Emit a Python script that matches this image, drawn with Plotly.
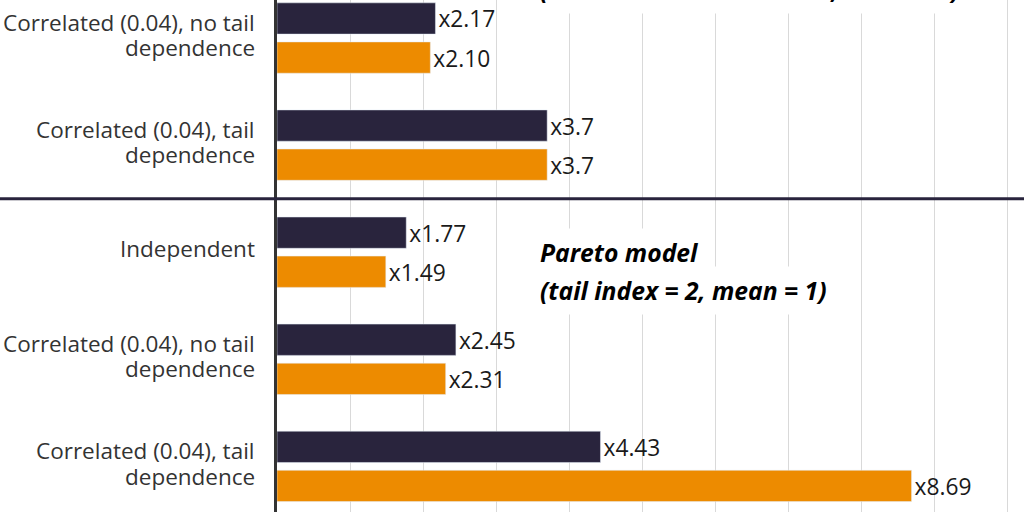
import plotly.graph_objects as go

# Rows from top to bottom (top block is the tail of the lognormal section)
categories = [
    "Correlated (0.04), no tail<br>dependence",
    "Correlated (0.04), tail<br>dependence",
    "Independent",
    "Correlated (0.04), no tail<br>dependence",
    "Correlated (0.04), tail<br>dependence",
]
dark_values = [2.17, 3.7, 1.77, 2.45, 4.43]
dark_labels = ["x2.17", "x3.7", "x1.77", "x2.45", "x4.43"]
orange_values = [2.10, 3.7, 1.49, 2.31, 8.69]
orange_labels = ["x2.10", "x3.7", "x1.49", "x2.31", "x8.69"]

rows = list(range(len(categories)))

DARK = "#29243d"
ORANGE = "#ed8b00"
FONT = "Open Sans"

fig = go.Figure()
fig.add_trace(go.Bar(y=rows, x=dark_values, orientation="h", marker_color=DARK,
                     text=dark_labels, textposition="outside", cliponaxis=False,
                     textfont=dict(family=FONT, size=24, color="#1a1a1a")))
fig.add_trace(go.Bar(y=rows, x=orange_values, orientation="h", marker_color=ORANGE,
                     text=orange_labels, textposition="outside", cliponaxis=False,
                     textfont=dict(family=FONT, size=24, color="#1a1a1a")))

# category labels, one annotation per line to get the tighter line spacing
label_font = dict(family=FONT, size=22.5, color="#333333")
for row, label in zip(rows, categories):
    lines = label.split("<br>")
    offsets = [-0.035] if len(lines) == 1 else [-0.145, 0.09]
    for line, off in zip(lines, offsets):
        fig.add_annotation(x=-0.027, y=row + off, xref="paper", yref="y", text=line,
                           showarrow=False, xanchor="right", yanchor="middle",
                           font=label_font)

# section separator between the two models
fig.add_shape(type="line", xref="paper", x0=-1, x1=1, yref="y", y0=1.5, y1=1.5,
              line=dict(color=DARK, width=3))

note_font = dict(family=FONT, size=24.7, color="#000000")
# model heading of the upper block sits mostly above the visible area
fig.add_annotation(x=3.49, y=1.0196, xref="x", yref="paper",
                   text="<b><i>(standard deviation = 0.5, mean = 1)</i></b>", showarrow=False,
                   xanchor="left", yanchor="middle", font=note_font,
                   bgcolor="white", borderpad=7)
for text, ypos in [("<b><i>Pareto model</i></b>", 2.005),
                   ("<b><i>(tail index = 2, mean = 1)</i></b>", 2.36)]:
    fig.add_annotation(x=3.49, y=ypos, xref="x", yref="y", text=text, showarrow=False,
                       xanchor="left", yanchor="middle", font=note_font,
                       bgcolor="white", borderpad=7)

fig.update_layout(
    width=1024, height=512,
    margin=dict(l=277, r=0, t=0, b=0),
    plot_bgcolor="white", paper_bgcolor="white",
    barmode="group", bargap=0.27, bargroupgap=0.2,
    showlegend=False,
    font=dict(family=FONT, size=20, color="#333333"),
)
fig.update_xaxes(range=[0, 10.23], dtick=1, showgrid=True, gridcolor="#d9d9d9", gridwidth=1,
                 zeroline=False, showticklabels=False, showline=False, automargin=False)
fig.update_yaxes(range=[4.426, -0.355], tickvals=rows, showticklabels=False,
                 showgrid=False, zeroline=False, showline=True, linecolor="#333333",
                 linewidth=3, ticks="", automargin=False)

# drop the default page margin so the figure sits at the window's corner
fig.write_html("out.html", config={"displayModeBar": False},
               post_script="document.body.style.margin = '0';")
